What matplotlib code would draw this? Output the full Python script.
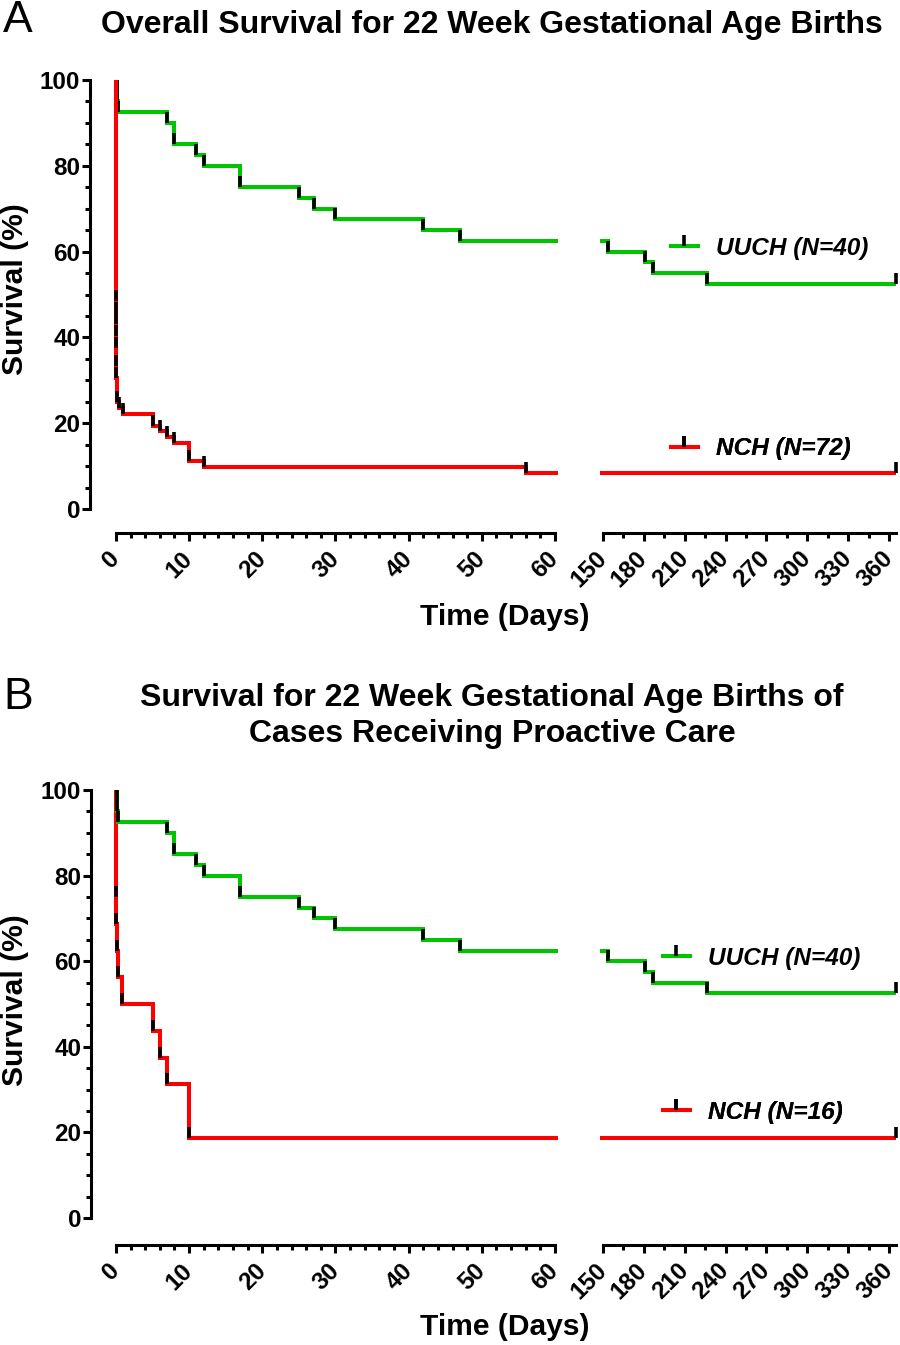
import matplotlib
matplotlib.use('Agg')
import matplotlib.pyplot as plt
from matplotlib.lines import Line2D
from matplotlib.ticker import MultipleLocator

plt.rcParams['font.family'] = ['Liberation Sans', 'DejaVu Sans']
plt.rcParams['font.weight'] = 'bold'

# survival data (days, %)
uuch_days = [0, 0.1, 0.2, 0.3, 7, 8, 11, 12, 17, 25, 27, 30, 42, 47, 154, 181, 187, 226, 365]
uuch_surv = [100, 97.5, 95, 92.5, 90, 85, 82.5, 80, 75, 72.5, 70, 67.5, 65, 62.5, 60, 57.5, 55, 52.5, 52.5]

nch_all_days = [0, 0.01, 0.02, 0.03, 0.04, 0.05, 0.06, 0.07, 0.08, 0.45, 0.9, 5, 6, 7, 8, 10, 12, 56, 365]
nch_all_surv = [100, 48.6, 45.8, 43.1, 40.3, 37.5, 33.3, 30.6, 25.0, 23.6, 22.2, 19.4, 18.1, 16.7, 15.3, 11.1, 9.7, 8.3, 8.3]

nch_pro_days = [0, 0.02, 0.05, 0.1, 0.3, 0.85, 5, 6, 7, 10, 365]
nch_pro_surv = [100, 75, 68.75, 62.5, 56.25, 50, 43.75, 37.5, 31.25, 18.75, 18.75]

title_a = 'Overall Survival for 22 Week Gestational Age Births'
title_b = 'Survival for 22 Week Gestational Age Births of\nCases Receiving Proactive Care'
uuch_label = 'UUCH (N=40)'
nch_a_label = 'NCH (N=72)'
nch_b_label = 'NCH (N=16)'

green = '#00C400'
red = '#FF0000'
LW = 2.9

W, H = 900, 1345
fig = plt.figure(figsize=(W / 100, H / 100), dpi=100)


def add_ax(x0, x1, ytop, ybot):
    return fig.add_axes([x0 / W, 1 - ybot / H, (x1 - x0) / W, (ybot - ytop) / H])


def km(ax, t, s, color, z):
    ax.plot(t, s, drawstyle='steps-post', color=color, lw=LW,
            solid_capstyle='butt', solid_joinstyle='miter', zorder=z)
    ax.plot(t[1:], s[1:], ls='none', marker=2, ms=8, mew=2.6,
            color='black', zorder=z + 0.5)


def style_axes(axl, axr, left_off, bottom_off):
    axl.set_xlim(-0.5, 60.4)
    axr.set_xlim(147.8, 367)
    for ax in (axl, axr):
        ax.set_ylim(0, 100)
        for sp in ('top', 'right'):
            ax.spines[sp].set_visible(False)
        ax.spines['bottom'].set_position(('outward', bottom_off))
        ax.spines['bottom'].set_linewidth(2.2)
        ax.tick_params(axis='both', which='major', length=6, width=2.2,
                       labelsize=17.5)
        ax.tick_params(axis='both', which='minor', length=3.5, width=2.2)
        ax.tick_params(axis='x', which='major', pad=10)
    axl.spines['left'].set_position(('outward', left_off))
    axl.spines['left'].set_linewidth(2.2)
    axl.spines['left'].set_bounds(0, 100)
    axl.spines['bottom'].set_bounds(0, 60)
    axr.spines['bottom'].set_bounds(150, 365)
    axr.spines['left'].set_visible(False)
    axr.tick_params(axis='y', which='both', left=False, labelleft=False)
    axl.yaxis.set_major_locator(MultipleLocator(20))
    axl.yaxis.set_minor_locator(MultipleLocator(5))
    axl.xaxis.set_major_locator(MultipleLocator(10))
    axl.xaxis.set_minor_locator(MultipleLocator(2))
    axr.set_xticks(range(150, 361, 30))
    axr.set_xticks(range(165, 366, 30), minor=True)
    axl.tick_params(axis='y', pad=1)
    for ax in (axl, axr):
        for lab in ax.get_xticklabels():
            lab.set_rotation(45)
            lab.set_ha('right')
            lab.set_va('center')
            lab.set_rotation_mode('anchor')


def add_legend(ax, color, label, xpx, ypx):
    h = Line2D([], [], color=color, lw=LW, marker=2, ms=8, mew=2.6, mec='black')
    leg = ax.legend([h], [label], loc='center left',
                    bbox_to_anchor=(xpx / W, 1 - ypx / H), bbox_transform=fig.transFigure,
                    frameon=False, borderpad=0, borderaxespad=0, handlelength=1.1,
                    handletextpad=0.75,
                    prop=dict(weight='bold', style='italic', size=17.6))
    ax.add_artist(leg)


# panel A
axA1 = add_ax(112.3, 557.9, 80, 509)
axA2 = add_ax(600.0, 898.6, 80, 509)
for ax in (axA1, axA2):
    km(ax, uuch_days, uuch_surv, green, 2)
    km(ax, nch_all_days, nch_all_surv, red, 3)
style_axes(axA1, axA2, 16.1, 17.3)
add_legend(axA2, green, uuch_label, 671, 248)
add_legend(axA2, red, nch_a_label, 671, 449)

# panel B
axB1 = add_ax(112.3, 557.9, 790, 1218)
axB2 = add_ax(600.0, 898.6, 790, 1218)
for ax in (axB1, axB2):
    km(ax, nch_pro_days, nch_pro_surv, red, 2)
    km(ax, uuch_days, uuch_surv, green, 3)
style_axes(axB1, axB2, 15.4, 19.4)
add_legend(axB2, green, uuch_label, 663, 958)
add_legend(axB2, red, nch_b_label, 663, 1112)

# texts
fig.text(492 / W, 1 - 25 / H, title_a, ha='center', va='center', fontsize=23)
fig.text(492 / W, 1 - 716 / H, title_b, ha='center', va='center', fontsize=23,
         linespacing=1.28)
for ylab in (289, 1000):
    fig.text(15 / W, 1 - ylab / H, 'Survival (%)', rotation=90, ha='center',
             va='center', fontsize=21.6)
for xlab in (617, 1327):
    fig.text(505 / W, 1 - xlab / H, 'Time (Days)', ha='center', va='center',
             fontsize=21.6)
fig.text(3 / W, 1 - 20 / H, 'A', ha='left', va='center', fontsize=32, fontweight='normal')
fig.text(3 / W, 1 - 697 / H, 'B', ha='left', va='center', fontsize=32, fontweight='normal')

fig.savefig('out.png', dpi=100)
